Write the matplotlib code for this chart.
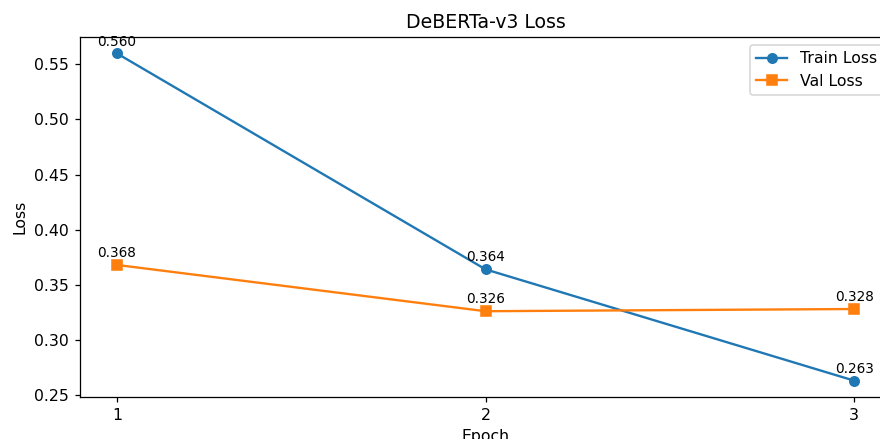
import matplotlib
matplotlib.use("Agg")
import matplotlib.pyplot as plt

# Data
epochs = [1, 2, 3]
train_loss = [0.560, 0.364, 0.263]
val_loss = [0.368, 0.326, 0.328]

DPI = 113
fig = plt.figure(figsize=(880 / DPI, 439 / DPI), dpi=DPI)
# axes run slightly past the right edge, like the cropped original
ax = fig.add_axes([80 / 880, 42 / 439, 811 / 880, 360 / 439])

ax.plot(epochs, train_loss, marker='o', label='Train Loss')
ax.plot(epochs, val_loss, marker='s', label='Val Loss')

for x, y in zip(epochs, train_loss):
    ax.annotate(f"{y:.3f}", (x, y), textcoords="offset points", xytext=(0, 5),
                ha='center', fontsize=8.7)
for x, y in zip(epochs, val_loss):
    ax.annotate(f"{y:.3f}", (x, y), textcoords="offset points", xytext=(0, 5),
                ha='center', fontsize=8.7)

ax.set_xticks(epochs)
ax.set_xlabel('Epoch')
ax.set_ylabel('Loss')
ax.set_title('DeBERTa-v3 Loss')
ax.legend(loc='upper right')

fig.savefig('out.png', dpi=DPI)
